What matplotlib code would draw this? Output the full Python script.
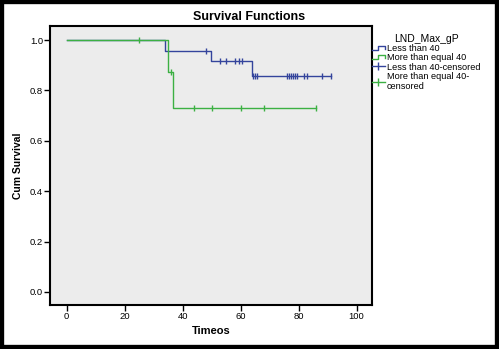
import numpy as np
import matplotlib
matplotlib.use('Agg')
import matplotlib.pyplot as plt
from matplotlib.lines import Line2D
from matplotlib.patches import Rectangle
from matplotlib.legend_handler import HandlerBase

plt.rcParams['font.family'] = ['Liberation Sans', 'DejaVu Sans']

# Kaplan-Meier steps
less_t = [0, 34.0, 49.8, 63.8, 91.1]
less_s = [1.0, 0.958, 0.916, 0.857, 0.857]
less_cens = [48.0, 52.9, 55.0, 58.1, 59.6, 60.6, 64.2, 65.0, 65.8,
             75.9, 76.6, 77.3, 78.0, 78.8, 79.6, 82.0, 82.8, 88.0, 91.1]

more_t = [0, 34.9, 36.8, 86.0]
more_s = [1.0, 0.875, 0.729, 0.729]
more_cens = [25.0, 35.9, 44.0, 50.0, 60.0, 68.0, 86.0]

labels = ['Less than 40', 'More than equal 40',
          'Less than 40-censored', 'More than equal 40-\ncensored']
x_ticks = [0, 20, 40, 60, 80, 100]
y_ticks = [0.0, 0.2, 0.4, 0.6, 0.8, 1.0]

blue = '#34449c'
green = '#3cb043'


def surv_at(t, s, c):
    idx = np.searchsorted(t, c, side='right') - 1
    return np.array(s)[idx]


class StepHandler(HandlerBase):
    def create_artists(self, legend, orig, xd, yd, w, h, fontsize, trans):
        xs = [-xd, -xd + w * 0.45, -xd + w * 0.45, -xd + w, -xd + w]
        ys = [-yd + h * 0.2, -yd + h * 0.2, -yd + h * 0.85, -yd + h * 0.85, -yd + h * 0.4]
        ln = Line2D(xs, ys, color=orig.get_color(), lw=orig.get_linewidth())
        ln.set_transform(trans)
        return [ln]


fig = plt.figure(figsize=(4.99, 3.49), dpi=100)
ax = fig.add_axes([50 / 499, 1 - 305 / 349, 322 / 499, 279 / 349])
ax.set_facecolor('#ececec')

ax.step(less_t, less_s, where='post', color=blue, lw=1)
ax.step(more_t, more_s, where='post', color=green, lw=1)
ax.plot(less_cens, surv_at(less_t, less_s, less_cens), ls='none',
        marker='|', ms=5, mew=1, color=blue)
ax.plot(more_cens, surv_at(more_t, more_s, more_cens), ls='none',
        marker='|', ms=5, mew=1, color=green)

ax.set_xlim(-5.7, 105.3)
ax.set_ylim(-0.052, 1.056)
ax.set_xticks(x_ticks)
ax.set_xticklabels([str(v) for v in x_ticks])
ax.set_yticks(y_ticks)
ax.set_yticklabels(['%.1f' % v for v in y_ticks])
ax.tick_params(direction='out', length=4, width=1, labelsize=6.8, pad=1,
               colors='black')
for sp in ax.spines.values():
    sp.set_linewidth(1.5)

fig.text(0.5, 1 - 17 / 349, 'Survival Functions', fontsize=9, fontweight='bold',
         ha='center', va='center')
ax.set_xlabel('Timeos', fontsize=8, fontweight='bold', labelpad=4)
ax.set_ylabel('Cum Survival', fontsize=7.5, fontweight='bold', labelpad=5)

handles = [Line2D([], [], color=blue, lw=1), Line2D([], [], color=green, lw=1),
           Line2D([], [], color=blue, lw=1, marker='|', ms=6),
           Line2D([], [], color=green, lw=1, marker='|', ms=6)]
leg = fig.legend(handles, labels, title='LND_Max_gP', loc='upper left',
                 bbox_to_anchor=(372 / 499, 1 - 34 / 349), frameon=False,
                 fontsize=6.6, title_fontsize=7.5, handlelength=1.4,
                 handletextpad=0.2, labelspacing=0.02, borderpad=0,
                 borderaxespad=0,
                 handler_map={handles[0]: StepHandler(), handles[1]: StepHandler()})

fig.patches.append(Rectangle((0, 0), 1, 1, transform=fig.transFigure,
                             fill=False, edgecolor='black', lw=6))

fig.savefig('out.png', dpi=100)
